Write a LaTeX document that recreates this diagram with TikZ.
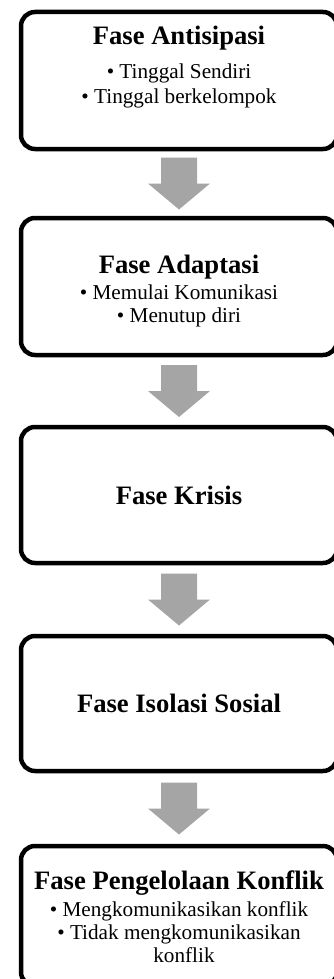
\documentclass[tikz,border=0pt]{standalone}
\usepackage{fontspec}
\setmainfont{Liberation Serif}
\usetikzlibrary{calc}
\definecolor{arrowgray}{HTML}{A5A5A5}
\tikzset{
  phasebox/.style={draw=black, line width=4.5pt, rounded corners=14pt, fill=white,
    minimum width=316pt, inner sep=0pt},
  ttl/.style={font=\fontsize{26.6}{30}\selectfont\bfseries, inner sep=0pt, anchor=base},
  bul/.style={font=\fontsize{21.2}{24}\selectfont, inner sep=0pt, anchor=base},
  blockfill/.style={fill=arrowgray},
}
\newcommand\blockarrow[2]{%
  \coordinate (m#1#2) at ($(#1.south)!0.5!(#2.north)$);
  \fill[blockfill] ($(m#1#2)+(-18,-26)$) -- ($(m#1#2)+(18,-26)$) -- ($(m#1#2)+(18,0)$)
    -- ($(m#1#2)+(31,0)$) -- ($(m#1#2)+(0,26)$) -- ($(m#1#2)+(-31,0)$)
    -- ($(m#1#2)+(-18,0)$) -- cycle;}
\begin{document}
\begin{tikzpicture}[x=1pt,y=-1pt]
\useasboundingbox (0,0) rectangle (334,979);
\node[phasebox, minimum height=137pt] (b1) at (179,80.5) {};
\node[phasebox, minimum height=137pt] (b2) at (179,286.5) {};
\node[phasebox, minimum height=136pt] (b3) at (179,495) {};
\node[phasebox, minimum height=135pt] (b4) at (179,703.5) {};
\node[phasebox, minimum height=140pt] (b5) at (179,916) {};

\blockarrow{b1}{b2}
\blockarrow{b2}{b3}
\blockarrow{b3}{b4}
\blockarrow{b4}{b5}

\node[ttl] (t1) at (179,45) {Fase Antisipasi};
\node[bul] (t1a) at (179,79) {• Tinggal Sendiri};
\node[bul] (t1b) at (179,103) {• Tinggal berkelompok};

\node[ttl] (t2) at (179,273) {Fase Adaptasi};
\node[bul] (t2a) at (179,299) {• Memulai Komunikasi};
\node[bul] (t2b) at (179,322) {• Menutup diri};

\node[ttl] (t3) at (179,504) {Fase Krisis};

\node[ttl] (t4) at (179,712) {Fase Isolasi Sosial};

\node[ttl] (t5) at (179,889) {Fase Pengelolaan Konflik};
\node[bul] (t5a) at (179,916) {• Mengkomunikasikan konflik};
\node[bul] (t5b) at (179,939) {• Tidak mengkomunikasikan};
\node[bul] (t5c) at (184,962) {konflik};
\end{tikzpicture}
\end{document}
